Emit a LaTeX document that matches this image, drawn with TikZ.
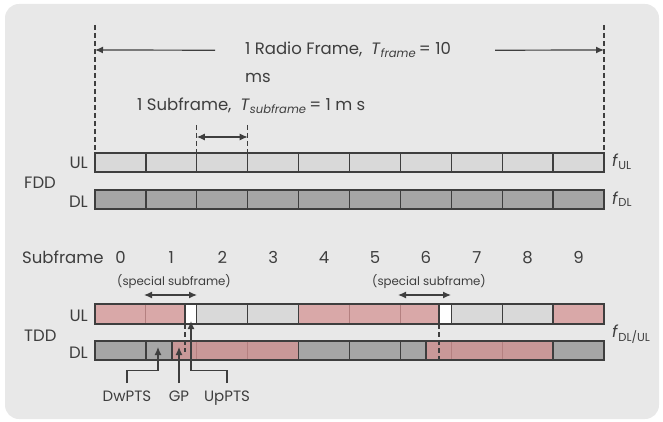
\documentclass[tikz,border=0pt]{standalone}
\usepackage{fontspec}
\setmainfont{Poppins}
\usepackage{tikz}
\usetikzlibrary{arrows.meta,positioning}
\definecolor{panelgray}{RGB}{232,232,232}
\definecolor{inkgray}{RGB}{62,62,62}
\definecolor{ulgray}{RGB}{217,217,217}
\definecolor{dlgray}{RGB}{166,166,166}
\definecolor{ulpink}{RGB}{217,168,168}
\definecolor{dlpink}{RGB}{201,152,152}
\definecolor{pinkline}{RGB}{180,128,128}
\newcommand{\cw}{50.9}
\newcommand{\period}[2]{\textit{#1}\textsubscript{\textit{#2}}}

\begin{document}
\begin{tikzpicture}[x=1pt,y=-1pt, font=\fontsize{16.5}{19}\selectfont, text=inkgray,
    cellbox/.style={draw=inkgray, line width=1.3pt},
    guide/.style={draw=inkgray, line width=1.2pt, dash pattern=on 5pt off 3pt},
    dimarrow/.style={draw=inkgray, line width=1.2pt, -{Latex[length=8pt,width=7pt]}},
    dimboth/.style={draw=inkgray, line width=1.2pt, {Latex[length=8pt,width=7pt]}-{Latex[length=8pt,width=7pt]}},
    lbl/.style={inner sep=0pt},
    small/.style={inner sep=0pt, font=\fontsize{11.8}{14}\selectfont},
    ptslbl/.style={inner sep=0pt, font=\fontsize{15}{17}\selectfont}]
    % Panel
    \useasboundingbox (0,0) rectangle (663,422);
    \fill[panelgray, rounded corners=14pt] (5,4) rectangle (659,419);

    % Radio frame span
    \draw[guide] (95,25) -- (95,153);
    \draw[guide] (604,25) -- (604,153);
    \node[lbl, anchor=base west] (radioframe) at (245,55) {1 Radio Frame,\ \ \period{T}{frame}\,= 10};
    \node[lbl, anchor=base west] (framems) at (245,83) {ms};
    \coordinate (frameL) at (95,50);
    \coordinate (frameR) at (604,50);
    \draw[dimarrow] ([xshift=-30pt]radioframe.west) -- (frameL);
    \draw[dimarrow] ([xshift=44pt]radioframe.east) -- (frameR);

    % Subframe span
    \draw[guide] (196.8,125) -- (196.8,153);
    \draw[guide] (247.7,125) -- (247.7,153);
    \node[lbl, anchor=base west] (subframe) at (137,111) {1 Subframe,\ \ \period{T}{subframe}\,= 1 m s};
    \coordinate (subL) at (196.8,137);
    \coordinate (subR) at (247.7,137);
    \draw[dimboth] (subL) -- (subR);

    % FDD bars
    \foreach \i in {0,...,9} {
        \draw[cellbox, fill=ulgray] (95+\i*\cw,153) rectangle ++(\cw,19);
        \draw[cellbox, fill=dlgray] (95+\i*\cw,190) rectangle ++(\cw,19);
    }
    \node[lbl, anchor=base east] (fddul) at (88,168) {UL};
    \node[lbl, anchor=base west] (fdd) at (24,188) {FDD};
    \node[lbl, anchor=base east] (fdddl) at (88,207) {DL};
    \node[lbl, anchor=base west] (ful) at (612,167) {\textit{f}\textsubscript{UL}};
    \node[lbl, anchor=base west] (fdl) at (612,204) {\textit{f}\textsubscript{DL}};

    % Subframe numbers
    \node[lbl, anchor=base west] (sflabel) at (22,263) {Subframe};
    \foreach \i in {0,...,9}
        \node[lbl, anchor=base] (sf\i) at (95+\i*\cw+\cw/2,263) {\i};

    % Special subframes
    \node[small, anchor=base] (special1) at (174,285) {(special subframe)};
    \node[small, anchor=base] (special6) at (429,285) {(special subframe)};
    \coordinate (sp1L) at (144,295);
    \coordinate (sp1R) at (197,295);
    \coordinate (sp6L) at (398,295);
    \coordinate (sp6R) at (451,295);
    \draw[dimboth] (sp1L) -- (sp1R);
    \draw[dimboth] (sp6L) -- (sp6R);

    % TDD UL bar
    \draw[cellbox, fill=ulpink] (95,304) rectangle (185,324);
    \draw[cellbox, fill=white] (185,304) rectangle (196.8,324);
    \draw[cellbox, fill=ulgray] (196.8,304) rectangle (298.6,324);
    \draw[cellbox, fill=ulpink] (298.6,304) rectangle (439,324);
    \draw[cellbox, fill=white] (439,304) rectangle (451.3,324);
    \draw[cellbox, fill=ulgray] (451.3,304) rectangle (553.1,324);
    \draw[cellbox, fill=ulpink] (553.1,304) rectangle (604,324);
    \foreach \x in {145.9,349.5,400.4}
        \draw[pinkline, line width=0.9pt] (\x,304.7) -- (\x,323.3);
    \foreach \x in {247.7,502.2}
        \draw[cellbox] (\x,304) -- (\x,324);

    % TDD DL bar
    \draw[cellbox, fill=dlgray] (95,341) rectangle (172,360);
    \draw[cellbox, fill=dlpink] (172,341) rectangle (298.6,360);
    \draw[cellbox, fill=dlgray] (298.6,341) rectangle (426,360);
    \draw[cellbox, fill=dlpink] (426,341) rectangle (553.1,360);
    \draw[cellbox, fill=dlgray] (553.1,341) rectangle (604,360);
    \foreach \x in {196.8,247.7,451.3,502.2}
        \draw[pinkline, line width=0.9pt] (\x,341.7) -- (\x,359.3);
    \foreach \x in {145.9,349.5,400.4}
        \draw[cellbox] (\x,341) -- (\x,360);

    % Guard period markers
    \draw[guide] (185,324) -- (185,352);
    \draw[guide] (439,324) -- (439,360);

    \node[lbl, anchor=base east] (tddul) at (88,321) {UL};
    \node[lbl, anchor=base west] (tdd) at (24,341) {TDD};
    \node[lbl, anchor=base east] (tdddl) at (88,358) {DL};
    \node[lbl, anchor=base west] (fdlul) at (612,337) {\textit{f}\textsubscript{DL/UL}};

    % DwPTS, GP, UpPTS
    \node[ptslbl, anchor=base] (dwpts) at (127,401) {DwPTS};
    \node[ptslbl, anchor=base] (gp) at (179,401) {GP};
    \node[ptslbl, anchor=base] (uppts) at (227,401) {UpPTS};
    \coordinate (dwtip) at (158,347);
    \coordinate (gptip) at (179,347);
    \coordinate (uptip) at (191,321);
    \draw[dimarrow] ([yshift=7pt]dwpts.north) -- ++(0,-13) -| (dwtip);
    \draw[dimarrow] ([yshift=7pt]gp.north) -- (gptip);
    \draw[dimarrow] ([yshift=7pt]uppts.north) -- ++(0,-13) -| (uptip);
\end{tikzpicture}
\end{document}
